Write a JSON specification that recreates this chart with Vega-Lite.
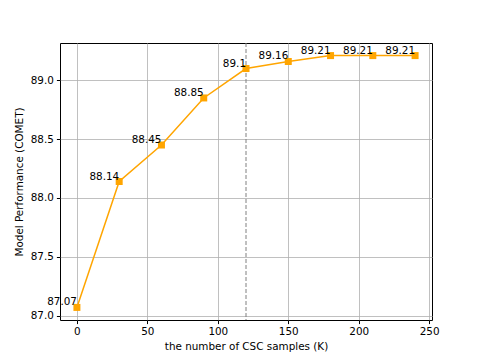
{
  "$schema": "https://vega.github.io/schema/vega-lite/v6.json",
  "width": 372,
  "height": 277,
  "autosize": {"type": "none"},
  "padding": {"left": 60, "top": 43, "right": 46, "bottom": 39},
  "background": "white",
  "config": {
    "view": {"stroke": "black", "strokeWidth": 1},
    "font": "DejaVu Sans",
    "axis": {
      "labelFont": "DejaVu Sans",
      "titleFont": "DejaVu Sans",
      "labelFontSize": 10.4,
      "titleFontSize": 10.4,
      "titleFontWeight": "normal",
      "labelColor": "black",
      "titleColor": "black",
      "tickColor": "black",
      "tickSize": 3.6,
      "domain": false,
      "gridColor": "#b0b0b0",
      "gridWidth": 0.8,
      "labelPadding": 3
    }
  },
  "data": {
    "values": [
      {"k": 0, "v": 87.07, "lab": "87.07"},
      {"k": 30, "v": 88.14, "lab": "88.14"},
      {"k": 60, "v": 88.45, "lab": "88.45"},
      {"k": 90, "v": 88.85, "lab": "88.85"},
      {"k": 120, "v": 89.1, "lab": "89.1"},
      {"k": 150, "v": 89.16, "lab": "89.16"},
      {"k": 180, "v": 89.21, "lab": "89.21"},
      {"k": 210, "v": 89.21, "lab": "89.21"},
      {"k": 240, "v": 89.21, "lab": "89.21"}
    ]
  },
  "encoding": {
    "x": {
      "field": "k", "type": "quantitative",
      "scale": {"domain": [-12, 252], "nice": false, "zero": false},
      "axis": {"values": [0, 50, 100, 150, 200, 250], "title": "the number of CSC samples (K)", "titlePadding": 4}
    },
    "y": {
      "field": "v", "type": "quantitative",
      "scale": {"domain": [86.963, 89.317], "nice": false, "zero": false},
      "axis": {"values": [87.0, 87.5, 88.0, 88.5, 89.0], "format": ".1f", "title": "Model Performance (COMET)", "titlePadding": 6}
    }
  },
  "layer": [
    {
      "data": {"values": [{"x": 120}]},
      "mark": {"type": "rule", "color": "#808080", "strokeDash": [4, 2], "strokeWidth": 1},
      "encoding": {"x": {"field": "x", "type": "quantitative"}, "y": null}
    },
    {
      "mark": {"type": "line", "color": "#FFA500", "strokeWidth": 1.5}
    },
    {
      "mark": {"type": "square", "color": "#FFA500", "filled": true, "opacity": 1, "size": 49}
    },
    {
      "mark": {"type": "text", "align": "right", "baseline": "bottom", "fontSize": 10.4, "color": "black", "dx": 0, "dy": 0},
      "encoding": {"text": {"field": "lab"}}
    }
  ]
}
